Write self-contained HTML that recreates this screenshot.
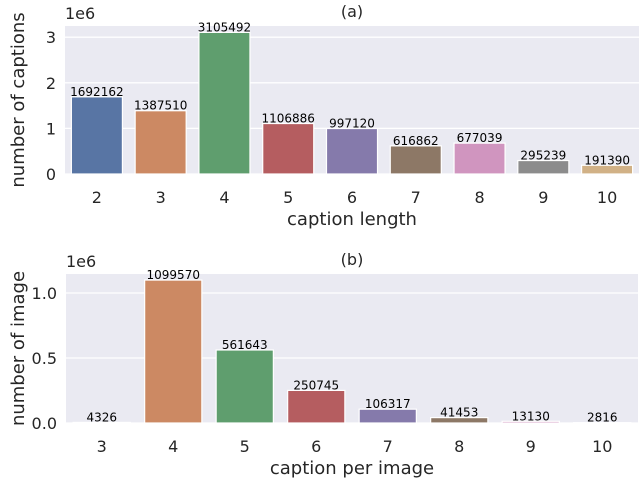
<!DOCTYPE html>
<html><head><meta charset="utf-8"><style>
body{margin:0;background:#fff;width:640px;height:478px;overflow:hidden}
svg{font-family:"DejaVu Sans","Liberation Sans",sans-serif}
</style></head><body>
<svg id="c" width="640" height="478"></svg>
<script>
const catsA=["2","3","4","5","6","7","8","9","10"];
const valsA=[1692162,1387510,3105492,1106886,997120,616862,677039,295239,191390];
const ticksA=[0,1,2,3];
const catsB=["3","4","5","6","7","8","9","10"];
const valsB=[4326,1099570,561643,250745,106317,41453,13130,2816];
const ticksB=[0.0,0.5,1.0];
const ticksBLabels=["0.0","0.5","1.0"];
const colors=["#5875a4","#cc8963","#5f9e6e","#b55d60","#857aab","#8d7866","#d095bf","#8c8c8c","#d1b186"];
const svg=document.getElementById('c');
const NS="http://www.w3.org/2000/svg";
function mk(t,a,txt){const e=document.createElementNS(NS,t);for(const k in a)e.setAttribute(k,a[k]);if(txt!=null)e.textContent=txt;svg.appendChild(e);return e;}
function panel(o){
  const {x0,x1,yTop,y0,pxPerUnit,cats,vals,ticks,tickLabels,colorOff,title,xlabel,ylabel,id}=o;
  const bg=mk('rect',{x:x0,y:yTop,width:x1-x0,height:y0-yTop,fill:'#eaeaf2'});
  
  const yS=v=>y0-v/1e6*pxPerUnit;
  ticks.forEach((t,i)=>{
    const y=yS(t*1e6);
    const g=mk('line',{x1:x0,x2:x1,y1:y,y2:y,stroke:'#fff','stroke-width':1.3});
    
    const l=mk('text',{x:x0-9,y:y+6,'text-anchor':'end','font-size':16,fill:'#262626'},tickLabels[i]);
    
  });
  const bw=(x1-x0)/cats.length;
  cats.forEach((c,i)=>{
    const cx=x0+bw*(i+0.5);
    const y=yS(vals[i]);
    const b=mk('rect',{x:cx-bw*0.4,y:y,width:bw*0.8,height:Math.max(0,y0-y),fill:colors[(i+colorOff)%colors.length],stroke:'#fff','stroke-width':1.2});
    
    const v=mk('text',{x:cx,y:y-1,'text-anchor':'middle','font-size':12,fill:'#000'},String(vals[i]));
    
    const t=mk('text',{x:cx,y:y0+29,'text-anchor':'middle','font-size':16,fill:'#262626'},c);
    
  });
  const e=mk('text',{x:x0,y:yTop-7,'font-size':16,fill:'#262626'},'1e6');
  
  const ti=mk('text',{x:(x0+x1)/2,y:yTop-9,'text-anchor':'middle','font-size':16,fill:'#262626'},title);
  
  const xl=mk('text',{x:(x0+x1)/2,y:y0+51,'text-anchor':'middle','font-size':18,fill:'#262626'},xlabel);
  
  const yc=(yTop+y0)/2;
  const yl=mk('text',{x:24,y:yc,'text-anchor':'middle','font-size':18,fill:'#262626',transform:`rotate(-90 24 ${yc})`},ylabel);
  
}
panel({id:'a',x0:65,x1:639,yTop:26,y0:174,pxPerUnit:45.6,cats:catsA,vals:valsA,ticks:ticksA,tickLabels:ticksA.map(String),colorOff:0,title:'(a)',xlabel:'caption length',ylabel:'number of captions'});
panel({id:'b',x0:66,x1:638,yTop:274,y0:423,pxPerUnit:130,cats:catsB,vals:valsB,ticks:ticksB,tickLabels:ticksBLabels,colorOff:0,title:'(b)',xlabel:'caption per image',ylabel:'number of image'});
</script>
</body></html>
